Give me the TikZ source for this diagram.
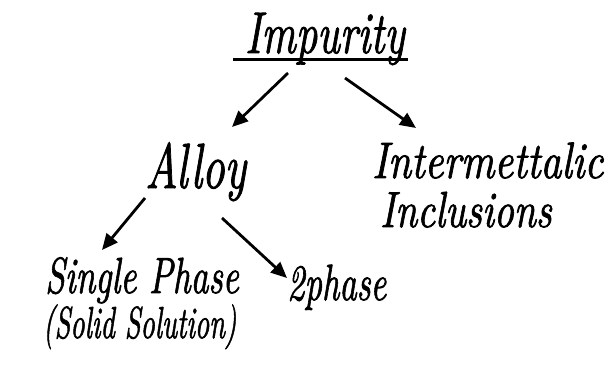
\documentclass[tikz,border=0pt]{standalone}
\usepackage{fontspec}
\usepackage{graphicx}
\newfontfamily\handfont{lmroman10-italic.otf}[FakeBold=1.6]
\usetikzlibrary{arrows.meta,calc}
\newcommand{\hw}[3]{{\fontsize{#1}{#1}\handfont\scalebox{1}[#2]{#3}}}
\begin{document}
\begin{tikzpicture}[x=1pt,y=-1pt,
  lbl/.style={anchor=base west,inner sep=0pt},
  arr/.style={line width=2.8pt,-{Triangle[length=16pt,width=14pt]}}]
\useasboundingbox (0,0) rectangle (616,365);
\node[lbl] (imp) at (245,53) {\hw{42}{1.4}{Impurity}};
\node[lbl] (alloy) at (145,188) {\hw{44}{1.45}{Alloy}};
\node[lbl] (inter1) at (372,178) {\hw{41}{1.25}{Intermettalic}};
\node[lbl] (inter2) at (380,227) {\hw{39}{1.3}{Inclusions}};
\node[lbl] (single) at (45,293) {\hw{35}{1.45}{Single Phase}};
\node[lbl] (solid) at (43,338) {\hw{28}{1.6}{(Solid Solution)}};
\node[lbl] (two) at (287,300) {\hw{34}{1.5}{2phase}};
\draw[line width=3pt] ($(imp.base west)+(-12,6)$) -- ($(imp.base east)+(3,6)$);
\draw[arr] ($(imp.base west)+(43,20)$) -- ($(alloy.base west)+(87,-61)$);
\draw[arr] ($(imp.base west)+(100,25)$) -- ($(inter1.base west)+(44,-50)$);
\draw[arr] ($(alloy.base west)+(0,10)$) -- ($(single.base west)+(57,-43)$);
\draw[arr] ($(alloy.base west)+(77,30)$) -- ($(two.base west)+(0,-22)$);
\end{tikzpicture}
\end{document}
